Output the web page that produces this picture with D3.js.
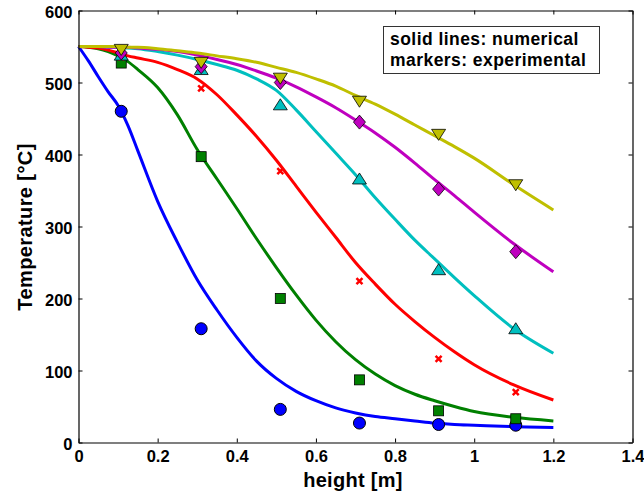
<!DOCTYPE html>
<html><head><meta charset="utf-8">
<script src="https://cdn.jsdelivr.net/npm/d3@7"></script>
<style>body{margin:0;background:#fff}svg text{font-family:"Liberation Sans",Arial,sans-serif;font-weight:bold}</style>
</head><body><svg id="c" width="644" height="495"></svg>
<script>
// Line x positions (height [m])
const lineX = [0,0.025,0.05,0.075,0.1,0.125,0.15,0.2,0.25,0.3,0.35,0.4,0.45,0.5,0.55,0.6,0.65,0.7,0.75,0.8,0.85,0.9,0.95,1.0,1.1,1.2];
// Numerical curves (temperature °C)
const blueLine    = [550,530,508,487,468,440,405,335,278,226,184,146,113,89,71,58,48,41,36,33,30,27,25,24,22,21];
const greenLine   = [550,549,547,543,537,529,518,493,455,407,366,325,283,243,205,170,140,115,95,79,67,58,50,43,35,30];
const redLine     = [550,549,548,545,541,537,534,528,518,505,483,455,425,392,356,320,285,250,220,192,168,146,126,108,80,59];
const cyanLine    = [550,550,550,549,549,548,547,543,538,532,525,517,505,489,462,432,402,372,340,310,281,255,229,204,158,124];
const magentaLine = [550,550,550,549,549,549,548,546,543,538,532,525,516,506,494,480,465,448,430,410,388,365,343,320,276,237];
const yellowLine  = [550,550,550,550,550,549,549,547,544,541,537,533,528,521,514,505,495,482,470,456,441,426,411,395,358,323];
// Experimental markers
const markX = [0.108,0.31,0.51,0.71,0.91,1.105];
const blueMarks    = [460,158,46,27,25,24];
const greenMarks   = [527,397,200,87,44,33];
const redMarks     = [535,492,377,224,116,70];
const cyanMarks    = [538,518,469,366,240,158];
const magentaMarks = [541,522,500,445,352,265];
const yellowMarks  = [546,528,506,474,428,358];
// Axis ticks
const xTicks = [0,0.2,0.4,0.6,0.8,1,1.2,1.4];
const yTicks = [0,100,200,300,400,500,600];
const legendLines = ["solid lines: numerical","markers: experimental"];

const series = [
  {line:blueLine, marks:blueMarks, color:"#0000ff", sym:"circle"},
  {line:greenLine, marks:greenMarks, color:"#008000", sym:"square"},
  {line:redLine, marks:redMarks, color:"#ff0000", sym:"cross"},
  {line:cyanLine, marks:cyanMarks, color:"#00bfbf", sym:"triUp"},
  {line:magentaLine, marks:magentaMarks, color:"#bf00bf", sym:"diamond"},
  {line:yellowLine, marks:yellowMarks, color:"#bfbf00", sym:"triDown"}
];

const svg = d3.select("#c");
const L=78.5, R=632.5, T=10.5, B=442.5;
const x = d3.scaleLinear().domain([0,1.4]).range([L,R]);
const y = d3.scaleLinear().domain([0,600]).range([B,T]);

// lines
const line = d3.line().x((d,i)=>x(lineX[i])).y(d=>y(d)).curve(d3.curveMonotoneX);
series.forEach(s=>{
  svg.append("path").attr("d",line(s.line)).attr("fill","none").attr("stroke",s.color).attr("stroke-width",3);
});

// markers
series.forEach(s=>{
  const g = svg.append("g");
  s.marks.forEach((v,i)=>{
    const cx=x(markX[i]), cy=y(v);
    if(s.sym==="circle"){
      g.append("circle").attr("cx",cx).attr("cy",cy).attr("r",6).attr("fill",s.color).attr("stroke","#000").attr("stroke-width",1);
    } else if(s.sym==="square"){
      g.append("rect").attr("x",cx-5).attr("y",cy-5).attr("width",10).attr("height",10).attr("fill",s.color).attr("stroke","#000").attr("stroke-width",0.8);
    } else if(s.sym==="cross"){
      g.append("path").attr("d",`M${cx-3},${cy-3}L${cx+3},${cy+3}M${cx-3},${cy+3}L${cx+3},${cy-3}`).attr("stroke",s.color).attr("stroke-width",2.5);
    } else if(s.sym==="triUp"){
      g.append("path").attr("d",`M${cx},${cy-6}L${cx+7},${cy+5}L${cx-7},${cy+5}Z`).attr("fill",s.color).attr("stroke","#000").attr("stroke-width",0.8);
    } else if(s.sym==="triDown"){
      g.append("path").attr("d",`M${cx},${cy+6}L${cx+7},${cy-5}L${cx-7},${cy-5}Z`).attr("fill",s.color).attr("stroke","#000").attr("stroke-width",0.8);
    } else if(s.sym==="diamond"){
      g.append("path").attr("d",`M${cx},${cy-7}L${cx+6},${cy}L${cx},${cy+7}L${cx-6},${cy}Z`).attr("fill",s.color).attr("stroke","#000").attr("stroke-width",0.8);
    }
  });
});

// axes
const ax = svg.append("g").attr("transform",`translate(0,${B})`).call(d3.axisBottom(x).tickValues(xTicks).tickSizeInner(-4).tickSizeOuter(0).tickPadding(8).tickFormat(d3.format("")));
const ay = svg.append("g").attr("transform",`translate(${L},0)`).call(d3.axisLeft(y).tickValues(yTicks).tickSizeInner(-4).tickSizeOuter(0).tickPadding(6));
const axT = svg.append("g").attr("transform",`translate(0,${T})`).call(d3.axisTop(x).tickValues(xTicks).tickSizeInner(-4).tickSizeOuter(0).tickFormat(""));
const ayR = svg.append("g").attr("transform",`translate(${R},0)`).call(d3.axisRight(y).tickValues(yTicks).tickSizeInner(-4).tickSizeOuter(0).tickFormat(""));
[ax,ay,axT,ayR].forEach(a=>{a.select(".domain").attr("stroke","#000").attr("stroke-width",1.2);a.selectAll("line").attr("stroke","#000");});
ax.selectAll("text").attr("font-size",16.5).attr("fill","#000").attr("font-family","Liberation Sans, Arial").attr("font-weight","bold").attr("y",6).attr("dy","0.71em").attr("dy","13").attr("transform","translate(0,0)");
ax.selectAll("text").attr("y",19).attr("dy",null);
ay.selectAll("text").attr("font-size",16.5).attr("fill","#000").attr("font-family","Liberation Sans, Arial").attr("font-weight","bold").attr("dy","0.45em");

// axis titles
svg.append("text").attr("x",353).attr("y",487).attr("text-anchor","middle").attr("font-size",20).attr("letter-spacing",0.3).text("height [m]");
svg.append("text").attr("transform","translate(32,227) rotate(-90)").attr("text-anchor","middle").attr("font-size",20).attr("letter-spacing",0.4).text("Temperature [°C]");

// legend box
svg.append("rect").attr("x",383.5).attr("y",26.5).attr("width",216).attr("height",47).attr("fill","#fff").attr("stroke","#333").attr("stroke-width",1);
legendLines.forEach((t,i)=>{
  svg.append("text").attr("x",390).attr("y",45+i*21).attr("font-size",17.5).attr("letter-spacing",0.45).text(t);
});
</script></body></html>
